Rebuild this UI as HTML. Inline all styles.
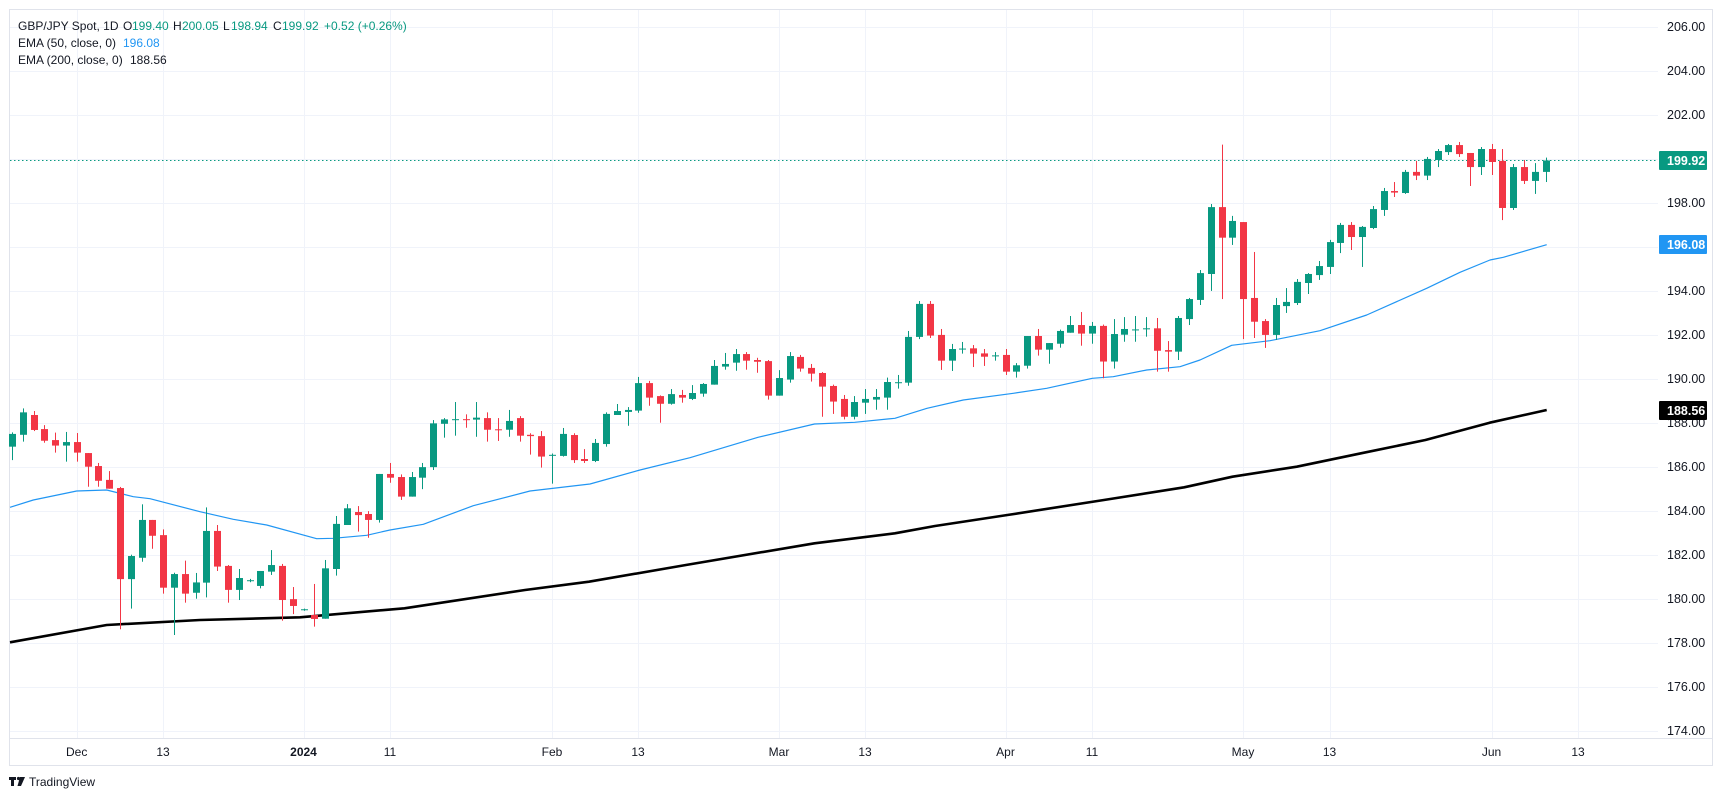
<!DOCTYPE html>
<html><head><meta charset="utf-8"><style>
html,body{margin:0;padding:0;background:#fff;width:1723px;height:801px;overflow:hidden}
svg{display:block;font-family:"Liberation Sans","DejaVu Sans",sans-serif}
</style></head><body>
<svg id="c" width="1723" height="801" viewBox="0 0 1723 801" xmlns="http://www.w3.org/2000/svg">
<rect x="0" y="0" width="1723" height="801" fill="#fff"/>
<g id="grid" stroke="#f0f3fa" stroke-width="1"></g>
<rect x="9.5" y="9.5" width="1703" height="756" fill="none" stroke="#e0e3eb" stroke-width="1"/>
<line x1="10" y1="738.5" x2="1712" y2="738.5" stroke="#e0e3eb"/>
<line x1="10" y1="160.5" x2="1658" y2="160.5" stroke="#089981" stroke-width="1" stroke-dasharray="1.5,2.5"/>
<polyline id="e200" fill="none" stroke="#000" stroke-width="2.6" stroke-linejoin="round"/>
<polyline id="e50" fill="none" stroke="#2196f3" stroke-width="1.2" stroke-linejoin="round"/>
<g id="candles"></g>
<g font-size="12.5" fill="#131722">
<text x="1667" y="31">206.00</text><text x="1667" y="75">204.00</text><text x="1667" y="119">202.00</text>
<text x="1667" y="207">198.00</text><text x="1667" y="295">194.00</text><text x="1667" y="339">192.00</text>
<text x="1667" y="383">190.00</text><text x="1667" y="427">188.00</text><text x="1667" y="471">186.00</text>
<text x="1667" y="515">184.00</text><text x="1667" y="559">182.00</text><text x="1667" y="603">180.00</text>
<text x="1667" y="647">178.00</text><text x="1667" y="691">176.00</text><text x="1667" y="735">174.00</text>
</g>
<rect x="1659" y="151" width="48" height="19" fill="#089981" rx="1"/>
<text x="1667" y="165" font-size="12.5" font-weight="bold" fill="#fff">199.92</text>
<rect x="1659" y="235" width="48" height="19" fill="#2196f3" rx="1"/>
<text x="1667" y="249" font-size="12.5" font-weight="bold" fill="#fff">196.08</text>
<rect x="1659" y="401" width="48" height="19" fill="#000" rx="1"/>
<text x="1667" y="415" font-size="12.5" font-weight="bold" fill="#fff">188.56</text>
<g font-size="12" fill="#131722" text-anchor="middle">
<text x="76.7" y="756">Dec</text><text x="163" y="756">13</text>
<text x="303.5" y="756" font-weight="bold">2024</text><text x="390" y="756">11</text>
<text x="552" y="756">Feb</text><text x="638" y="756">13</text>
<text x="779" y="756">Mar</text><text x="865" y="756">13</text>
<text x="1005.5" y="756">Apr</text><text x="1092" y="756">11</text>
<text x="1243" y="756">May</text><text x="1329.5" y="756">13</text>
<text x="1491.5" y="756">Jun</text><text x="1578" y="756">13</text>
</g>
<g font-size="12" fill="#131722">
<text y="30"><tspan x="18">GBP/JPY Spot, 1D</tspan><tspan x="123">O</tspan><tspan x="132" fill="#089981">199.40</tspan><tspan x="173">H</tspan><tspan x="182" fill="#089981">200.05</tspan><tspan x="223">L</tspan><tspan x="231" fill="#089981">198.94</tspan><tspan x="273">C</tspan><tspan x="282" fill="#089981">199.92</tspan><tspan x="324" fill="#089981">+0.52 (+0.26%)</tspan></text>
<text y="47"><tspan x="18">EMA (50, close, 0)</tspan><tspan x="123" fill="#2196f3">196.08</tspan></text>
<text y="64"><tspan x="18">EMA (200, close, 0)</tspan><tspan x="130">188.56</tspan></text>
</g>
<g fill="#131722">
<rect x="9" y="777" width="7" height="3"/><rect x="11" y="777" width="3" height="9"/>
<circle cx="18.5" cy="778.5" r="1.6"/><path d="M20 777 L25 777 L21 786 L17.5 786 Z"/>
<text x="29" y="786" font-size="12">TradingView</text>
</g>
</svg>
<script>
(function(){
var NS="http://www.w3.org/2000/svg";
function Y(p){return 114.7+(202-p)*22;}
function X(i){return 76.7+10.8*i;}
var g=document.getElementById('grid');
function ln(x1,y1,x2,y2){var l=document.createElementNS(NS,'line');l.setAttribute('x1',x1);l.setAttribute('y1',y1);l.setAttribute('x2',x2);l.setAttribute('y2',y2);g.appendChild(l);}
for(var p=174;p<=206;p+=2){var y=Math.round(Y(p))+0.5;ln(10,y,1658,y);}
[0,8,21,29,44,52,65,73,86,94,108,116,131,139].forEach(function(i){var x=Math.round(X(i))+0.5;ln(x,10,x,738);});
var d={
"-6":[186.91,187.56,186.3,187.49],"-5":[187.45,188.65,187.14,188.47],"-4":[188.35,188.53,187.62,187.67],"-3":[187.71,187.89,187.09,187.18],"-2":[187.21,187.55,186.64,186.96],"-1":[186.96,187.58,186.23,187.12],
0:[187.12,187.53,186.23,186.64],1:[186.62,186.62,185.09,186.0],2:[186.03,186.17,185.09,185.36],3:[185.4,185.8,185.0,185.0],4:[185.03,185.08,178.61,180.89],5:[180.89,182.0,179.55,181.94],6:[181.86,184.29,181.68,183.58],7:[183.58,183.58,182.27,182.86],8:[182.89,183.15,180.23,180.5],9:[180.5,181.18,178.35,181.12],
10:[181.12,181.73,179.82,180.23],11:[180.27,181.17,180.0,180.74],12:[180.73,184.15,180.06,183.08],13:[183.08,183.35,181.26,181.46],14:[181.49,181.53,179.82,180.4],15:[180.4,181.35,179.94,180.94],16:[180.83,180.9,180.75,180.84],17:[180.58,181.26,180.47,181.26],18:[181.23,182.21,181.08,181.53],19:[181.49,181.58,179.0,179.94],
20:[179.98,180.53,179.3,179.67],21:[179.5,179.55,179.45,179.52],22:[179.26,180.67,178.73,179.08],23:[179.09,181.76,179.09,181.38],24:[181.35,183.76,181.05,183.4],25:[183.35,184.3,183.35,184.11],26:[183.94,184.21,183.05,183.8],27:[183.85,183.98,182.77,183.58],28:[183.58,185.67,183.46,185.67],29:[185.67,186.17,185.27,185.5],
30:[185.53,185.65,184.49,184.64],31:[184.64,185.76,184.64,185.53],32:[185.5,186.17,184.98,185.98],33:[185.98,188.12,185.85,187.97],34:[187.95,188.21,187.32,188.15],35:[188.15,188.94,187.41,188.16],36:[188.16,188.38,187.77,188.13],37:[188.14,188.94,187.36,188.23],38:[188.21,188.47,187.14,187.68],39:[187.7,188.21,187.17,187.69],
40:[187.68,188.58,187.36,188.08],41:[188.21,188.3,187.14,187.41],42:[187.45,187.52,186.55,187.39],43:[187.39,187.62,185.96,186.46],44:[186.53,186.6,185.23,186.54],45:[186.49,187.76,186.46,187.49],46:[187.44,187.52,186.17,186.3],47:[186.35,186.8,186.17,186.26],48:[186.26,187.26,186.21,187.08],49:[187.03,188.47,186.91,188.4],
50:[188.35,188.85,188.35,188.53],51:[188.49,188.71,187.86,188.58],52:[188.55,190.08,188.45,189.8],53:[189.8,189.9,188.77,189.14],54:[189.21,189.24,188.0,188.86],55:[188.86,189.53,188.82,189.3],56:[189.26,189.49,188.91,189.14],57:[189.08,189.71,189.03,189.35],58:[189.32,189.8,189.18,189.76],59:[189.73,190.85,189.73,190.58],
60:[190.55,191.17,190.41,190.67],61:[190.73,191.35,190.36,191.12],62:[191.12,191.21,190.41,190.82],63:[190.85,190.95,190.27,190.77],64:[190.8,190.85,189.05,189.23],65:[189.23,190.39,189.23,190.03],66:[189.96,191.21,189.82,191.03],67:[190.99,191.08,190.32,190.46],68:[190.49,190.67,189.87,190.23],69:[190.26,190.3,188.27,189.64],
70:[189.67,189.73,188.4,188.96],71:[189.08,189.26,188.15,188.27],72:[188.27,189.21,188.15,188.94],73:[188.91,189.53,188.4,189.08],74:[189.05,189.53,188.59,189.17],75:[189.14,190.05,188.59,189.85],76:[189.83,190.17,189.55,189.84],77:[189.82,192.17,189.68,191.9],78:[191.9,193.53,191.8,193.4],79:[193.4,193.53,191.85,191.96],
80:[191.99,192.26,190.4,190.82],81:[190.82,191.58,190.35,191.35],82:[191.35,191.67,191.14,191.37],83:[191.38,191.53,190.53,191.14],84:[191.15,191.35,190.58,191.0],85:[191.05,191.21,190.82,191.06],86:[191.08,191.35,190.17,190.32],87:[190.32,190.71,190.05,190.61],88:[190.59,191.94,190.46,191.94],89:[191.94,192.26,191.05,191.32],
90:[191.32,191.62,190.68,191.62],91:[191.59,192.23,191.41,192.17],92:[192.09,192.85,192.09,192.44],93:[192.44,193.03,191.5,192.05],94:[192.05,192.58,191.59,192.4],95:[192.4,192.46,190.02,190.78],96:[190.78,192.71,190.46,192.03],97:[192.0,192.8,191.68,192.26],98:[192.23,192.85,191.68,192.24],99:[192.28,192.8,191.91,192.29],
100:[192.29,192.76,190.32,191.27],101:[191.3,191.71,190.32,191.23],102:[191.23,192.85,190.85,192.76],103:[192.71,193.67,192.44,193.62],104:[193.58,194.94,193.35,194.8],105:[194.76,197.94,193.99,197.8],106:[197.8,200.64,193.62,196.41],107:[196.41,197.4,196.08,197.17],108:[197.12,197.12,191.8,193.62],109:[193.67,195.76,191.85,192.59],
110:[192.62,192.71,191.4,191.99],111:[191.99,193.67,191.76,193.35],112:[193.3,194.12,192.99,193.49],113:[193.44,194.53,193.35,194.4],114:[194.35,194.8,193.85,194.76],115:[194.71,195.35,194.49,195.12],116:[195.08,196.31,194.76,196.21],117:[196.17,197.08,195.71,196.99],118:[196.99,197.12,195.85,196.44],119:[196.44,196.94,195.08,196.9],
120:[196.85,197.85,196.8,197.71],121:[197.67,198.67,197.4,198.53],122:[198.53,198.94,198.26,198.46],123:[198.44,199.49,198.4,199.4],124:[199.4,199.9,199.03,199.23],125:[199.23,200.08,199.03,199.99],126:[199.94,200.44,199.62,200.35],127:[200.3,200.67,200.17,200.62],128:[200.62,200.76,200.08,200.21],129:[200.26,200.26,198.76,199.62],
130:[199.62,200.53,199.26,200.44],131:[200.44,200.67,199.26,199.85],132:[199.9,200.44,197.21,197.76],133:[197.76,199.76,197.67,199.62],134:[199.62,199.94,198.85,198.99],135:[198.99,199.8,198.4,199.4],136:[199.4,200.05,198.94,199.92]};
var cg=document.getElementById('candles');
for(var i=-6;i<=136;i++){var c=d[i];if(!c)continue;var o=c[0],h=c[1],l=c[2],cl=c[3];
var col=cl>=o?'#089981':'#f23645';var x=Math.round(X(i));
var w=document.createElementNS(NS,'rect');w.setAttribute('x',x);w.setAttribute('y',Y(h));w.setAttribute('width',1);w.setAttribute('height',Math.max(1,Y(l)-Y(h)));w.setAttribute('fill',col);cg.appendChild(w);
var top=Y(Math.max(o,cl)),bh=Math.max(1,Math.abs(Y(o)-Y(cl)));
var b=document.createElementNS(NS,'rect');b.setAttribute('x',x-3);b.setAttribute('y',top);b.setAttribute('width',7);b.setAttribute('height',bh);b.setAttribute('fill',col);cg.appendChild(b);}
var e50=[[10,507.3],[33.3,500],[76.7,491],[106.7,490],[133.3,496.7],[150,498.7],[200,511.7],[233.3,519.3],[266.7,525],[316.7,538.7],[333.3,538.3],[366.7,535.3],[390,530],[423.3,524.3],[473.3,505.7],[530,491],[590,484],[640,470],[690,457.7],[758,437.3],[814.5,424],[854.7,422.3],[894.9,418.3],[927,408.3],[963.3,400],[1013.3,393.3],[1046.7,388.3],[1092.3,378.3],[1113.3,376.7],[1146.7,370],[1180,366.7],[1200,360],[1231.7,345.3],[1270,340.7],[1320,330.7],[1366.7,315],[1426.7,288.3],[1460,272.3],[1490,260],[1503.3,257.3],[1546.7,244.7]];
var e200=[[10,642.3],[106.7,625],[200,620],[300,617.3],[404.5,608.3],[525,590],[589,581.7],[685.9,565],[814.5,543.3],[894.9,533.3],[935,526],[1007.4,515],[1103.9,500],[1184.2,487.3],[1232.5,476.7],[1296.8,466.7],[1361,453.3],[1425.4,440],[1489.7,422.7],[1546.7,410]];
document.getElementById('e50').setAttribute('points',e50.map(function(p){return p.join(',')}).join(' '));
document.getElementById('e200').setAttribute('points',e200.map(function(p){return p.join(',')}).join(' '));
})();
</script>
</body></html>
